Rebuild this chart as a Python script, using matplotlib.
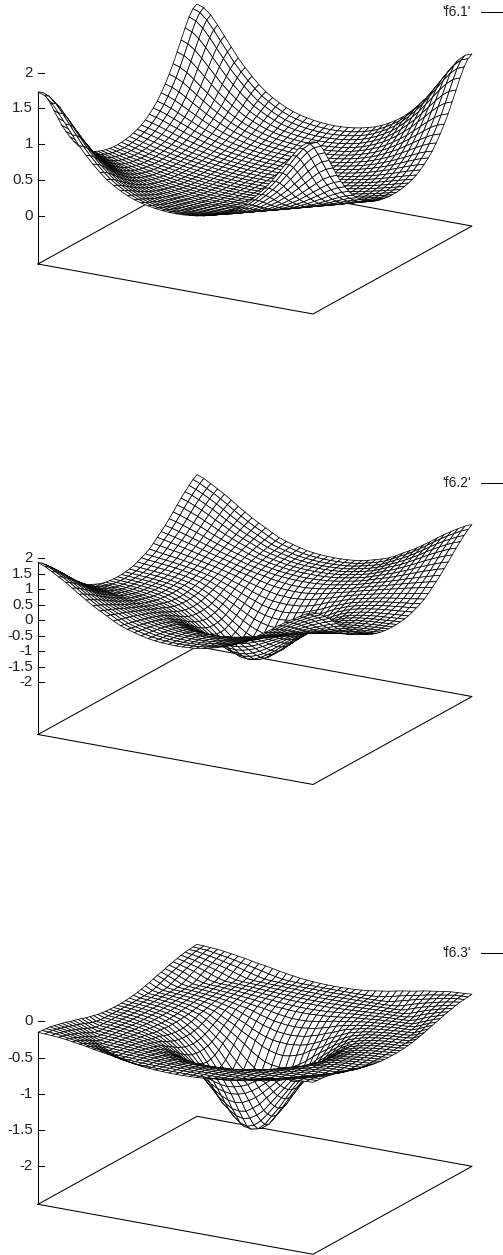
import numpy as np
import matplotlib
matplotlib.use("Agg")
import matplotlib.pyplot as plt
from matplotlib.lines import Line2D
from mpl_toolkits.mplot3d import proj3d

plt.rcParams['font.family'] = ['Liberation Sans', 'DejaVu Sans']
W, H = 503, 1255
names = ["'f6.1'", "'f6.2'", "'f6.3'"]
zbase = [-0.67, -3.70, -2.53]
zmax = [1.73, 1.87, -0.15]
ticks = [[0, 0.5, 1, 1.5, 2], [2, 1.5, 1, 0.5, 0, -0.5, -1, -1.5, -2], [0, -0.5, -1, -1.5, -2]]
tlabels = [['0', '0.5', '1', '1.5', '2'], ['2', '1.5', '1', '0.5', '0', '-0.5', '-1', '-1.5', '-2'], ['0', '-0.5', '-1', '-1.5', '-2']]
centre_y = [159.0, 629.5, 1099.3]
legend_y = [12, 482.7, 953.3]

# Surface heights; row i, column j <= i of one
# symmetric eighth of the 41 x 41 grid (centre at row 0, corner at row 20).
f61 = [
 [.130],
 [.131,.132],
 [.133,.134,.136],
 [.136,.137,.139,.142],
 [.140,.141,.143,.146,.151],
 [.146,.147,.149,.152,.157,.164],
 [.153,.154,.156,.160,.165,.172,.180],
 [.161,.162,.165,.168,.174,.181,.190,.201],
 [.170,.171,.174,.178,.184,.192,.202,.214,.228],
 [.181,.182,.185,.190,.196,.205,.215,.229,.244,.263],
 [.193,.194,.198,.203,.209,.219,.231,.245,.263,.284,.307],
 [.206,.208,.211,.217,.224,.235,.248,.265,.285,.309,.335,.368],
 [.220,.222,.226,.232,.241,.252,.267,.286,.309,.336,.366,.404,.447],
 [.236,.238,.242,.249,.259,.272,.288,.310,.336,.367,.402,.445,.495,.549],
 [.253,.255,.260,.268,.279,.293,.311,.336,.366,.400,.439,.489,.546,.608,.676],
 [.271,.273,.279,.287,.300,.316,.336,.364,.398,.438,.483,.540,.605,.677,.755,.846],
 [.290,.293,.299,.308,.322,.340,.362,.394,.432,.476,.526,.591,.664,.746,.834,.937,1.041],
 [.311,.314,.320,.331,.346,.366,.391,.425,.468,.517,.572,.645,.726,.817,.916,1.031,1.148,1.266],
 [.333,.336,.343,.354,.371,.392,.419,.457,.503,.556,.616,.695,.784,.883,.991,1.117,1.243,1.372,1.488],
 [.356,.359,.367,.378,.395,.418,.446,.485,.534,.590,.653,.736,.830,.934,1.047,1.180,1.314,1.450,1.571,1.659],
 [.380,.383,.391,.403,.420,.443,.471,.511,.560,.616,.681,.765,.860,.966,1.080,1.215,1.350,1.488,1.611,1.695,1.730],
]
f62 = [
 [-1.84],
 [-1.81,-1.78],
 [-1.72,-1.69,-1.59],
 [-1.56,-1.53,-1.46,-1.36],
 [-1.40,-1.38,-1.305,-1.21,-1.08],
 [-1.21,-1.19,-1.13,-1.055,-.946,-.825],
 [-1.02,-1.00,-.968,-.896,-.81,-.702,-.593],
 [-.85,-.832,-.797,-.743,-.657,-.581,-.489,-.383],
 [-.68,-.665,-.649,-.604,-.542,-.464,-.37,-.305,-.229],
 [-.54,-.525,-.508,-.461,-.412,-.346,-.287,-.219,-.147,-.091],
 [-.40,-.399,-.377,-.353,-.308,-.257,-.194,-.141,-.091,-.027,.033],
 [-.31,-.308,-.286,-.261,-.223,-.174,-.135,-.09,-.036,.026,.085,.143],
 [-.22,-.218,-.204,-.186,-.164,-.125,-.082,-.035,.012,.074,.139,.199,.26],
 [-.175,-.173,-.158,-.143,-.114,-.076,-.035,.008,.057,.125,.195,.258,.327,.405],
 [-.13,-.127,-.118,-.102,-.076,-.04,.001,.047,.10,.171,.247,.319,.396,.483,.571],
 [-.105,-.102,-.092,-.074,-.049,-.008,.038,.083,.138,.217,.302,.382,.468,.565,.668,.779],
 [-.08,-.076,-.067,-.049,-.024,.018,.065,.114,.175,.262,.355,.443,.537,.65,.765,.885,1.007],
 [-.065,-.061,-.051,-.032,-.005,.039,.09,.143,.209,.302,.402,.499,.607,.729,.851,.989,1.117,1.235],
 [-.05,-.046,-.035,-.016,.013,.06,.115,.169,.239,.339,.452,.557,.67,.802,.937,1.079,1.219,1.347,1.46],
 [-.035,-.031,-.019,.001,.032,.08,.137,.197,.275,.384,.503,.611,.737,.876,1.018,1.169,1.314,1.448,1.569,1.689],
 [-.02,-.015,-.002,.02,.053,.105,.167,.23,.308,.42,.546,.663,.79,.936,1.082,1.239,1.389,1.525,1.656,1.779,1.87],
]
f63 = [
 [-1.74],
 [-1.72,-1.70],
 [-1.65,-1.62,-1.54],
 [-1.515,-1.49,-1.43,-1.35],
 [-1.38,-1.365,-1.305,-1.23,-1.125],
 [-1.23,-1.215,-1.17,-1.11,-1.028,-.937],
 [-1.08,-1.067,-1.041,-.989,-.924,-.846,-.775],
 [-.95,-.937,-.911,-.872,-.811,-.766,-.712,-.649],
 [-.82,-.811,-.802,-.775,-.739,-.694,-.64,-.601,-.555],
 [-.73,-.721,-.712,-.685,-.658,-.62,-.588,-.549,-.51,-.489],
 [-.64,-.64,-.627,-.614,-.588,-.562,-.53,-.504,-.486,-.465,-.449],
 [-.575,-.575,-.562,-.549,-.53,-.507,-.495,-.48,-.462,-.447,-.437,-.426],
 [-.51,-.51,-.504,-.498,-.492,-.48,-.468,-.453,-.444,-.435,-.426,-.417,-.41],
 [-.48,-.48,-.474,-.471,-.462,-.453,-.446,-.438,-.431,-.423,-.416,-.41,-.403,-.398],
 [-.45,-.45,-.449,-.446,-.441,-.437,-.432,-.425,-.419,-.414,-.408,-.402,-.398,-.394,-.387],
 [-.435,-.435,-.434,-.431,-.428,-.423,-.418,-.414,-.41,-.405,-.40,-.397,-.393,-.387,-.365,-.33],
 [-.42,-.42,-.419,-.417,-.415,-.412,-.409,-.405,-.401,-.398,-.396,-.391,-.385,-.36,-.325,-.295,-.269],
 [-.41,-.41,-.409,-.407,-.405,-.403,-.40,-.398,-.396,-.393,-.388,-.377,-.35,-.32,-.29,-.266,-.245,-.22],
 [-.40,-.40,-.40,-.399,-.398,-.397,-.395,-.392,-.388,-.381,-.36,-.335,-.31,-.283,-.262,-.241,-.218,-.20,-.183],
 [-.395,-.395,-.394,-.393,-.391,-.389,-.386,-.377,-.36,-.34,-.315,-.295,-.273,-.255,-.234,-.215,-.20,-.183,-.168,-.162],
 [-.385,-.385,-.381,-.377,-.369,-.36,-.345,-.33,-.315,-.295,-.276,-.262,-.245,-.224,-.21,-.195,-.18,-.168,-.162,-.156,-.15],
]


def full_grid(rows):
    """Mirror one eighth of the read heights across the surface's symmetry axes."""
    n = len(rows) - 1
    Z = np.zeros((2*n + 1, 2*n + 1))
    for a in range(-n, n + 1):
        for b in range(-n, n + 1):
            hi, lo = max(abs(a), abs(b)), min(abs(a), abs(b))
            Z[a + n, b + n] = rows[hi][lo]
    return Z


tables = [f61, f62, f63]
g = np.linspace(-1, 1, 41)
X, Y = np.meshgrid(g, g)

fig = plt.figure(figsize=(W/100, H/100), dpi=100)
side = 471.2
for k in range(3):
    left = 255 - 0.5135*side
    bottom_img = centre_y[k] + 0.5135*side
    ax = fig.add_axes([left/W, 1-bottom_img/H, side/W, side/H], projection='3d')
    ax.set_proj_type('ortho')
    ax.view_init(elev=18.49, azim=-60.18)
    ax.set_box_aspect((317, 319.7, 181.4))
    ax.set_xlim(-1, 1); ax.set_ylim(-1, 1); ax.set_zlim(zbase[k], zmax[k])
    ax.set_axis_off()
    ax.patch.set_alpha(0)
    ax.computed_zorder = False
    b = zbase[k]
    ax.plot([-1, 1, 1, -1, -1], [-1, -1, 1, 1, -1], [b]*5, color='k', lw=0.75, zorder=1)
    ax.plot([-1, -1], [-1, -1], [b, zmax[k]], color='k', lw=0.75, zorder=1)
    M = ax.get_proj()
    for t, lab in zip(ticks[k], tlabels[k]):
        ax.plot([-1, -1+.0329], [-1, -1+.0187], [t, t], color='k', lw=0.75, zorder=1)
        px, py, _ = proj3d.proj_transform(-1-.0274, -1-.0156, t, M)
        ax.text2D(px, py, lab, transform=ax.transData, ha='right', va='center',
                  fontsize=10.8, color='#222222', zorder=3)
    ax.plot_surface(X, Y, full_grid(tables[k]), rstride=1, cstride=1, color='white',
                    edgecolor='k', shade=False, linewidth=0.55, zorder=2)
    fig.text(471/W, 1-legend_y[k]/H, names[k], ha='right', va='center', fontsize=10, color='#222222')
    fig.add_artist(Line2D([480.7/W, 503/W], [1-legend_y[k]/H]*2, color='k', lw=0.75))
fig.savefig('out.png', dpi=100)
